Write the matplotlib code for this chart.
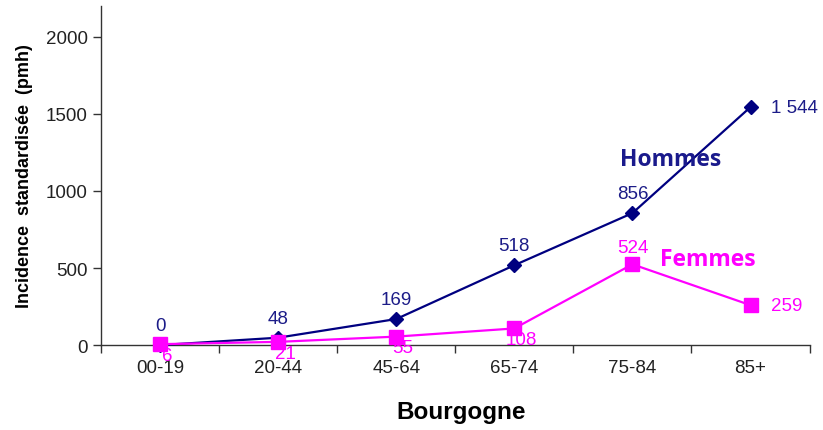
import matplotlib.pyplot as plt

# Incidence standardisée par classe d'âge, Bourgogne
age_groups = ['00-19', '20-44', '45-64', '65-74', '75-84', '85+']
hommes = [0, 48, 169, 518, 856, 1544]
femmes = [6, 21, 55, 108, 524, 259]
hommes_labels = ['0', '48', '169', '518', '856', '1 544']
femmes_labels = ['6', '21', '55', '108', '524', '259']

navy = '#000080'
magenta = '#ff00ff'

plt.rcParams['font.family'] = ['Liberation Sans', 'DejaVu Sans']

fig = plt.figure(figsize=(8.23, 4.31), dpi=100)
ax = fig.add_axes([0.1227, 0.197, 0.861, 0.787])

x = list(range(len(age_groups)))
ax.plot(x, hommes, color=navy, lw=1.6, marker='D', ms=7, zorder=3)
ax.plot(x, femmes, color=magenta, lw=1.6, marker='s', ms=9.5, zorder=4)

fs = 13.5
# value labels: men above the points, the last one to the right
for i, (v, t) in enumerate(zip(hommes, hommes_labels)):
    if i == len(x) - 1:
        ax.annotate(t, (i, v), xytext=(15, 0), textcoords='offset points',
                    ha='left', va='center', color='#1c1c88', fontsize=fs)
    else:
        ax.annotate(t, (i, v), xytext=(0, 8), textcoords='offset points',
                    ha='center', va='bottom', color='#1c1c88', fontsize=fs)

# women: below for the young groups, above at 75-84, right at 85+
for i, (v, t) in enumerate(zip(femmes, femmes_labels)):
    if i == len(x) - 1:
        ax.annotate(t, (i, v), xytext=(15, 0), textcoords='offset points',
                    ha='left', va='center', color=magenta, fontsize=fs)
    elif i == 4:
        ax.annotate(t, (i, v), xytext=(0, 6), textcoords='offset points',
                    ha='center', va='bottom', color=magenta, fontsize=fs)
    else:
        ax.annotate(t, (i, v), xytext=(5, -2), textcoords='offset points',
                    ha='center', va='top', color=magenta, fontsize=fs)

ax.text(4.32, 1208, 'Hommes', color='#1a1a8c', fontsize=16.5, fontweight='bold',
        family=['Open Sans', 'DejaVu Sans'], ha='center', va='center')
ax.text(4.64, 558, 'Femmes', color=magenta, fontsize=16.5, fontweight='bold',
        family=['Open Sans', 'DejaVu Sans'], ha='center', va='center')

ax.set_xlim(-0.5, 5.5)
ax.set_ylim(0, 2200)
ax.set_yticks([0, 500, 1000, 1500, 2000])
ax.set_xticks(x)
ax.set_xticklabels(age_groups)
ax.set_xticks([i - 0.5 for i in range(len(x) + 1)], minor=True)
ax.tick_params(axis='x', which='major', length=0, pad=10, labelsize=fs, labelcolor='#222222')
ax.tick_params(axis='x', which='minor', length=6, width=1, color='#333333')
ax.tick_params(axis='y', length=6, width=1, color='#333333', labelsize=fs, labelcolor='#222222')

for s in ['top', 'right']:
    ax.spines[s].set_visible(False)
for s in ['left', 'bottom']:
    ax.spines[s].set_color('#333333')
    ax.spines[s].set_linewidth(1)

ax.set_ylabel('Incidence  standardisée  (pmh)', fontsize=13, fontweight='bold', labelpad=9)
ax.set_xlabel('Bourgogne', fontsize=17.5, fontweight='bold', labelpad=17)
ax.xaxis.label.set_x(0.508)
for line in ax.get_lines():
    line.set_clip_on(False)

fig.savefig('out.png', dpi=100)
